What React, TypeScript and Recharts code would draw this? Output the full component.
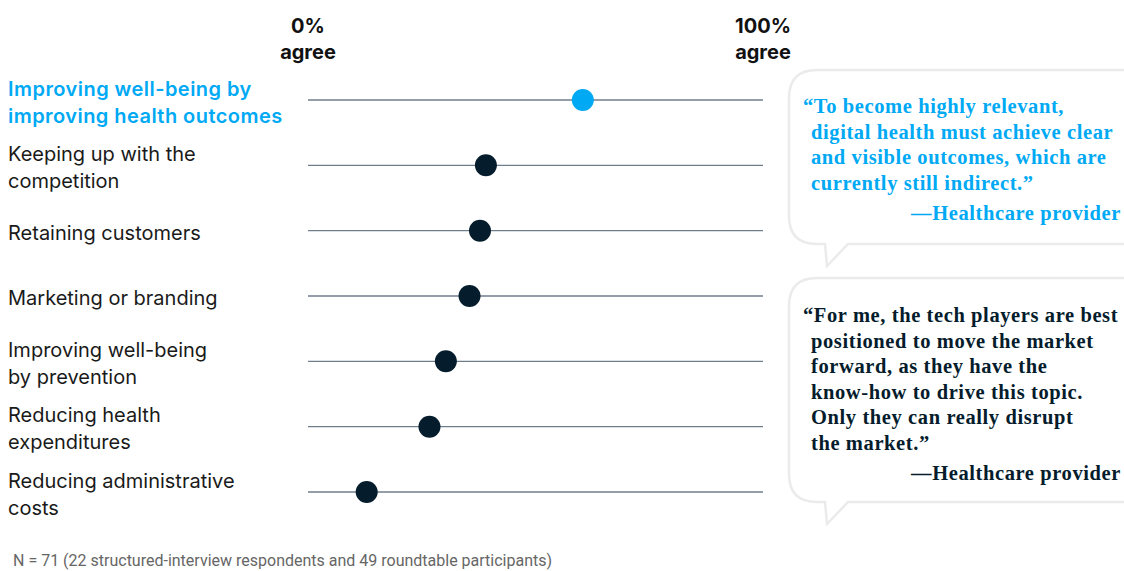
import { ScatterChart, Scatter, XAxis, YAxis, ReferenceLine } from 'recharts'

const categories = [
  ['Improving well-being by', 'improving health outcomes'],
  ['Keeping up with the', 'competition'],
  ['Retaining customers'],
  ['Marketing or branding'],
  ['Improving well-being', 'by prevention'],
  ['Reducing health', 'expenditures'],
  ['Reducing administrative', 'costs'],
]
const agreeShare = [60.4, 39.1, 37.8, 35.5, 30.3, 26.7, 12.9]
const highlighted = [true, false, false, false, false, false, false]
const axisTicks = [0, 100]
const axisLabels = ['0%', '100%']

const quoteOne = [
  '\u201CTo become highly relevant,',
  'digital health must achieve clear',
  'and visible outcomes, which are',
  'currently still indirect.\u201D',
]
const quoteTwo = [
  '\u201CFor me, the tech players are best',
  'positioned to move the market',
  'forward, as they have the',
  'know-how to drive this topic.',
  'Only they can really disrupt',
  'the market.\u201D',
]
const attribution = '\u2014Healthcare provider'
const footnote = 'N = 71 (22 structured-interview respondents and 49 roundtable participants)'

const BLUE = '#00a9f4'
const NAVY = '#051c2c'
const SANS = 'Inter, Roboto, Arial, sans-serif'
const SERIF = '"Liberation Serif", "Times New Roman", serif'

const data = agreeShare.map((value, i) => ({ row: i, value, hi: highlighted[i] }))

function CategoryTick(props: any) {
  const { y, payload } = props
  const lines = categories[payload.value] || []
  const hi = highlighted[payload.value]
  return (
    <text
      x={8}
      y={y}
      fontFamily={SANS}
      fontSize={20}
      fontWeight={hi ? 600 : 400}
      letterSpacing={hi ? 0.45 : 0}
      fill={hi ? BLUE : '#1a1a1a'}
      textAnchor="start"
    >
      {lines.map((l, i) => (
        <tspan key={i} x={8} y={y + 9 + (i - (lines.length - 1) / 2) * 27}>
          {l}
        </tspan>
      ))}
    </text>
  )
}

function PercentTick(props: any) {
  const { x, payload } = props
  const idx = axisTicks.indexOf(payload.value)
  return (
    <text x={x} textAnchor="middle" fontFamily={SANS} fontSize={20} fontWeight={700} fill="#111">
      <tspan x={x} y={33}>{axisLabels[idx]}</tspan>
      <tspan x={x} y={59}>agree</tspan>
    </text>
  )
}

function bubblePath(l: number, t: number, r: number, b: number, rad: number, tipX: number, tipY: number) {
  return `M ${l + rad} ${t} H ${r - rad} Q ${r} ${t} ${r} ${t + rad} V ${b - rad} Q ${r} ${b} ${r - rad} ${b} ` +
    `H 848 L ${tipX} ${tipY} L 825 ${b} H ${l + rad} Q ${l} ${b} ${l} ${b - rad} V ${t + rad} Q ${l} ${t} ${l + rad} ${t} Z`
}

function Quote({ lines, top, color }: { lines: string[]; top: number; color: string }) {
  return (
    <g fontFamily={SERIF} fontSize={20.5} fontWeight={700} fill={color} letterSpacing={0.6}>
      {lines.map((l, i) => (
        <text key={i} x={i === 0 ? 803 : 811} y={top + i * 25.6}>{l}</text>
      ))}
      <text x={1121} y={top + lines.length * 25.6 + 4.5} textAnchor="end">{attribution}</text>
    </g>
  )
}

export default function App() {
  return (
    <div style={{ position: 'absolute', left: 0, top: 0, width: 1124, height: 571, overflow: 'hidden', background: '#fff' }}>
      <ScatterChart width={1124} height={571} margin={{ top: 0, right: 361, bottom: 79, left: 8 }}>
        <XAxis
          type="number"
          dataKey="value"
          orientation="top"
          domain={[0, 100]}
          ticks={axisTicks}
          axisLine={false}
          tickLine={false}
          height={100}
          tick={<PercentTick />}
        />
        <YAxis
          type="number"
          dataKey="row"
          domain={[0, 6]}
          ticks={[0, 1, 2, 3, 4, 5, 6]}
          reversed
          axisLine={false}
          tickLine={false}
          width={300}
          tick={<CategoryTick />}
        />
        {data.map((d) => (
          <ReferenceLine key={d.row} y={d.row} stroke="#6f7e8b" strokeWidth={1.4} />
        ))}
        <Scatter
          data={data}
          isAnimationActive={false}
          shape={(p: any) => (
            <circle cx={p.cx} cy={p.cy} r={11} fill={p.payload.hi ? BLUE : NAVY} />
          )}
        />
      </ScatterChart>
      <svg width={1124} height={571} style={{ position: 'absolute', left: 0, top: 0, pointerEvents: 'none' }}>
        <path d={bubblePath(789, 70, 1150, 244, 28, 827, 266)} fill="none" stroke="#ebebeb" strokeWidth={2.5} />
        <path d={bubblePath(789, 278, 1150, 502, 28, 827, 524)} fill="none" stroke="#ebebeb" strokeWidth={2.5} />
        <Quote lines={quoteOne} top={113} color={BLUE} />
        <Quote lines={quoteTwo} top={322} color={NAVY} />
        <text x={13} y={566} fontFamily="Roboto, Arial, sans-serif" fontSize={16} fill="#666">{footnote}</text>
      </svg>
    </div>
  )
}
